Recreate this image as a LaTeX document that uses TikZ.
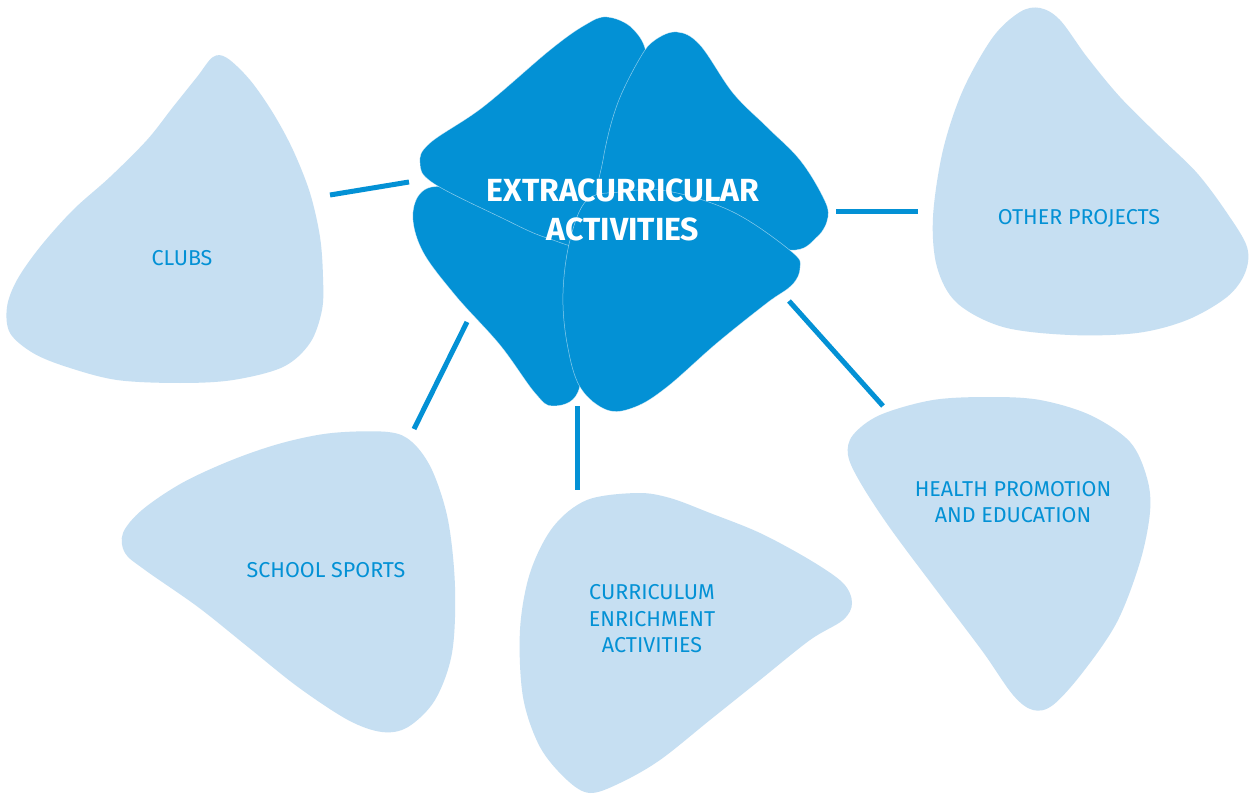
\documentclass[tikz,border=0pt]{standalone}
\usepackage{xcolor}
\usepackage{fontspec}
\setmainfont{Fira Sans}
\usepackage{tikz}

\tikzset{
  blob/.style={fill=lightColor,draw=none},
  petal/.style={fill=darkColor,draw=white,draw opacity=0.55,line width=0.5pt},
  link/.style={draw=darkColor,line width=5pt},
  label/.style={text=darkColor,align=center,inner sep=0pt,outer sep=0pt,
    font=\fontsize{21.5}{26.5}\selectfont},
  title/.style={text=white,align=center,inner sep=0pt,outer sep=0pt,
    font=\fontsize{32}{39}\selectfont\bfseries}
}

\begin{document}
\begin{tikzpicture}[x=1pt,y=-1pt]
\definecolor{darkColor}{RGB}{3,145,213}
\definecolor{lightColor}{RGB}{198,223,242}
\path[use as bounding box,fill=white] (0,0) rectangle (1255,799);

% outer blobs
\path[blob] plot[smooth cycle,tension=0.55] coordinates {(213,57) (227,58) (250,80) (273,113) (293,150) (310,193) (320,237) (323,277) (322,310) (310,343) (283,367) (233,380) (180,383) (117,380) (67,367) (33,353) (10,333) (7,307) (17,280) (40,247) (73,210) (110,177) (147,140) (173,107) (197,77)};
\path[blob] plot[smooth cycle,tension=0.55] coordinates {(1040,8) (1060,20) (1087,57) (1120,97) (1160,137) (1197,173) (1227,213) (1247,247) (1245,273) (1227,297) (1187,320) (1137,333) (1070,335) (1003,327) (957,303) (937,267) (933,217) (943,150) (963,90) (993,37) (1020,12)};
\path[blob] plot[smooth cycle,tension=0.55] coordinates {(388,432) (412,442) (432,470) (448,520) (455,587) (452,653) (435,700) (408,727) (382,732) (348,720) (298,687) (248,647) (198,607) (145,570) (125,553) (123,533) (142,510) (182,483) (232,460) (282,443) (332,433)};
\path[blob] plot[smooth cycle,tension=0.55] coordinates {(637,493) (587,500) (553,527) (530,573) (520,630) (523,697) (540,747) (567,780) (590,793) (620,783) (660,760) (710,720) (760,680) (810,640) (843,620) (852,603) (843,583) (810,560) (760,533) (710,513) (670,498)};
\path[blob] plot[smooth cycle,tension=0.55] coordinates {(990,397) (1040,400) (1090,415) (1130,442) (1147,478) (1150,512) (1140,562) (1117,622) (1083,672) (1053,705) (1033,710) (1013,695) (983,652) (940,595) (890,528) (860,482) (848,455) (853,435) (880,415) (933,400)};

% centre petals
\path[petal] plot[smooth cycle,tension=0.6] coordinates {(428,188) (413,212) (422,250) (455,295) (500,345) (535,393) (553,406) (578,392) (585,330) (588,260) (590,215) (540,200) (470,190)};
\path[petal] plot[smooth cycle,tension=0.6] coordinates {(607,17) (633,29) (647,60) (640,130) (622,200) (590,245) (547,238) (500,217) (433,183) (420,163) (430,143) (483,107) (550,50) (585,25)};
\path[petal] plot[smooth cycle,tension=0.6] coordinates {(677,32) (700,45) (733,93) (767,127) (800,160) (823,197) (828,217) (817,237) (790,250) (720,230) (650,212) (600,205) (603,160) (617,105) (640,58) (655,40)};
\path[petal] plot[smooth cycle,tension=0.6] coordinates {(587,200) (570,240) (563,293) (567,343) (580,387) (607,410) (635,407) (667,387) (717,343) (767,303) (792,285) (800,268) (792,252) (733,212) (667,191) (620,192)};

\node[title] (extra) at (623,210) {EXTRACURRICULAR\\ACTIVITIES};

\node[label] (clubs) at (182,258) {CLUBS};
\node[label] (other) at (1079,218) {OTHER PROJECTS};
\node[label] (sports) at (326,570) {SCHOOL SPORTS};
\node[label] (enrich) at (652,619) {CURRICULUM\\ENRICHMENT\\ACTIVITIES};
\node[label] (health) at (1013,502) {HEALTH PROMOTION\\AND EDUCATION};

% link ends
\coordinate (clubs-in) at (409,182);
\coordinate (clubs-out) at (330,195);
\coordinate (other-in) at (836,212);
\coordinate (other-out) at (918,212);
\coordinate (sports-in) at (467,322);
\coordinate (sports-out) at (414,429);
\coordinate (enrich-in) at (577,406);
\coordinate (enrich-out) at (577,490);
\coordinate (health-in) at (789,301);
\coordinate (health-out) at (883,406);

\path[link] (clubs-in) -- (clubs-out);
\path[link] (other-in) -- (other-out);
\path[link] (sports-in) -- (sports-out);
\path[link] (enrich-in) -- (enrich-out);
\path[link] (health-in) -- (health-out);
\end{tikzpicture}
\end{document}
